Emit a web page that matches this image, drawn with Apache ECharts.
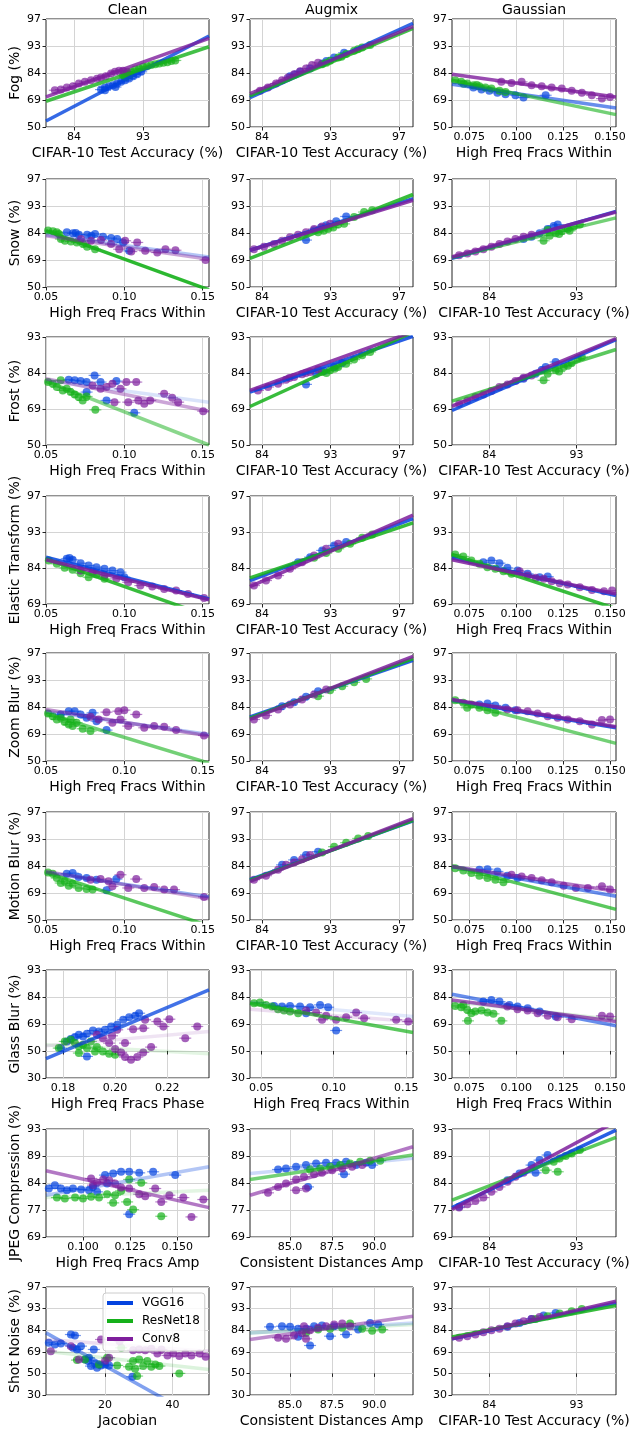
<!DOCTYPE html>
<html><head><meta charset="utf-8">
<script src="https://cdn.jsdelivr.net/npm/echarts@6/dist/echarts.min.js"></script>
<style>html,body{margin:0;padding:0;background:#fff}#c{width:631px;height:1435px}</style>
</head><body><div id="c"></div><script>
// All accuracy values (y, and x where axis is CIFAR-10 accuracy) are in probit (z) units.
const MODELS = ['VGG16','ResNet18','Conv8'];
const COL_TITLES = ['Clean','Augmix','Gaussian'];
const ROW_NAMES = ['Fog (%)','Snow (%)','Frost (%)','Elastic Transform (%)','Zoom Blur (%)','Motion Blur (%)','Glass Blur (%)','JPEG Compression (%)','Shot Noise (%)'];
const PROBIT_TICKS = [-0.5,0,0.5,0.75,1,1.25,1.5,2];
const PROBIT_LABELS = ['30','50','69','77','84','89','93','97'];
const Y_RANGES = [[0,2],[0,2],[0,1.5],[0.5,2],[0,2],[0,2],[-0.5,1.5],[0.5,1.5],[-0.5,2]];
const Y_STEPS = [0.5,0.5,0.5,0.5,0.5,0.5,0.5,0.25,0.5];
const X_ACC_TICKS = [1,1.5,2];
const X_HFW_TICKS = [0.05,0.10,0.15];
const X_HFW3_TICKS = [0.075,0.100,0.125,0.150];
const X_HFP_TICKS = [0.18,0.20,0.22];
const X_HFA_TICKS = [0.100,0.125,0.150];
const X_CDA_TICKS = [85.0,87.5,90.0];
const X_JAC_TICKS = [20,40];

// ---- Fog ----
const fogClean = [
 [[1.195,0.693],[1.224,0.731],[1.253,0.755],[1.282,0.774],[1.312,0.805],[1.341,0.836],[1.370,0.867],[1.399,0.898],[1.428,0.941],[1.457,0.978],[1.486,1.022],[1.224,0.680],[1.30,0.74]],
 [[1.355,0.960],[1.384,1.003],[1.413,1.022],[1.442,1.065],[1.471,1.084],[1.500,1.115],[1.530,1.127],[1.559,1.146],[1.588,1.164],[1.617,1.176],[1.646,1.189],[1.675,1.201],[1.704,1.220],[1.733,1.232],[1.37,0.93],[1.40,0.97]],
 [[0.861,0.681],[0.905,0.693],[0.948,0.731],[0.992,0.755],[1.035,0.805],[1.079,0.836],[1.123,0.867],[1.166,0.892],[1.195,0.916],[1.230,0.941],[1.268,0.991],[1.297,1.022],[1.326,1.040],[1.355,1.040],[1.384,1.022]]];
const fogCleanFit = [[0.797,0.111,1.977,1.684],[0.797,0.477,1.977,1.486],[0.797,0.557,1.977,1.641]];
const fogAugmix = [
 [[1.204,0.941],[1.278,1.022],[1.351,1.084],[1.439,1.176],[1.526,1.288],[1.599,1.375],[1.24,0.97],[1.47,1.22]],
 [[1.439,1.164],[1.497,1.226],[1.556,1.288],[1.614,1.350],[1.672,1.412],[1.731,1.474],[1.789,1.517],[1.47,1.19],[1.58,1.30],[1.70,1.44]],
 [[0.985,0.669],[1.043,0.731],[1.102,0.805],[1.146,0.867],[1.190,0.916],[1.234,0.978],[1.278,1.034],[1.321,1.084],[1.365,1.146],[1.409,1.189]]];
const fogAugmixFit = [[0.912,0.545,2.102,1.920],[0.912,0.576,2.102,1.827],[0.912,0.619,2.102,1.858]];
const fogGauss = [
 [[0.0772,0.731],[0.0815,0.693],[0.0857,0.669],[0.0900,0.632],[0.0943,0.607],[0.0996,0.588],[0.1039,0.545],[0.1157,0.588]],
 [[0.0675,0.867],[0.0707,0.836],[0.0739,0.805],[0.0772,0.774],[0.0804,0.755],[0.0836,0.731],[0.0868,0.712],[0.0911,0.669],[0.0943,0.650],[0.072,0.80],[0.079,0.78]],
 [[0.0921,0.836],[0.0975,0.817],[0.1029,0.836],[0.1082,0.774],[0.1136,0.755],[0.1189,0.731],[0.1243,0.712],[0.1296,0.669],[0.1350,0.632],[0.1403,0.588],[0.1457,0.526],[0.1500,0.557]]];
const fogGaussFit = [[0.0658,0.793,0.1532,0.353],[0.0658,0.867,0.1532,0.229],[0.0658,0.978,0.1532,0.557]];

// ---- Snow ----
const snowClean = [
 [[0.0633,1.013],[0.0672,0.994],[0.0710,0.969],[0.0762,0.969],[0.0813,0.981],[0.0864,0.931],[0.0915,0.906],[0.0954,0.888],[0.0992,0.825],[0.1031,0.669],[0.069,1.0],[0.079,0.95]],
 [[0.0513,1.044],[0.0544,1.031],[0.0569,1.013],[0.0595,0.888],[0.0621,0.856],[0.0659,0.844],[0.0697,0.825],[0.0736,0.794],[0.0762,0.744],[0.0813,0.700],[0.0582,0.981]],
 [[0.0723,0.888],[0.0787,0.856],[0.0851,0.869],[0.0915,0.794],[0.0967,0.700],[0.1005,0.856],[0.1044,0.656],[0.1082,0.825],[0.1133,0.669],[0.1210,0.638],[0.1262,0.700],[0.1326,0.681],[0.1518,0.500]]];
const snowCleanFit = [[0.05,0.969,0.154,0.556],[0.05,1.044,0.154,-0.053],[0.05,0.95,0.154,0.512]];
const snowAugmix = [
 [[1.321,0.869],[1.380,1.050],[1.468,1.144],[1.541,1.219],[1.614,1.306],[1.43,1.10]],
 [[1.409,1.013],[1.482,1.075],[1.556,1.156],[1.599,1.169],[1.672,1.294],[1.745,1.388],[1.804,1.419],[1.45,1.04],[1.52,1.10]],
 [[0.941,0.700],[1.014,0.744],[1.087,0.794],[1.146,0.856],[1.204,0.919],[1.263,0.969],[1.321,1.013],[1.380,1.075],[1.438,1.119],[1.497,1.169]]];
const snowAugmixFit = [[0.912,0.681,2.102,1.638],[0.912,0.531,2.102,1.713],[0.912,0.681,2.102,1.606]];
const snowGauss = [
 [[1.196,0.888],[1.242,0.931],[1.288,0.994],[1.334,1.075],[1.369,1.131],[1.392,1.156]],
 [[1.311,0.856],[1.346,0.950],[1.380,0.994],[1.415,1.031],[1.450,1.075],[1.484,1.119],[1.519,1.156],[1.334,1.056],[1.40,0.98],[1.46,1.04]],
 [[0.827,0.588],[0.874,0.619],[0.920,0.656],[0.966,0.700],[1.012,0.744],[1.058,0.794],[1.104,0.844],[1.150,0.888],[1.196,0.931],[1.242,0.969]]];
const snowGaussFit = [[0.786,0.531,1.726,1.40],[0.786,0.544,1.726,1.281],[0.786,0.556,1.726,1.388]];

// ---- Frost ----
const frostClean = [
 [[0.0645,0.907],[0.0683,0.898],[0.0721,0.888],[0.0759,0.874],[0.0810,0.967],[0.0848,0.874],[0.0886,0.619],[0.0949,0.888],[0.0759,0.735],[0.1063,0.447]],
 [[0.0513,0.874],[0.0543,0.851],[0.0569,0.805],[0.0594,0.898],[0.0607,0.758],[0.0632,0.781],[0.0657,0.735],[0.0683,0.702],[0.0708,0.665],[0.0734,0.619],[0.0759,0.674],[0.0815,0.488]],
 [[0.0797,0.828],[0.0848,0.781],[0.0886,0.805],[0.0924,0.851],[0.0975,0.781],[0.1013,0.874],[0.1025,0.595],[0.1076,0.874],[0.1089,0.619],[0.1165,0.619],[0.1254,0.712],[0.1305,0.656],[0.1343,0.595],[0.1503,0.470],[0.0937,0.595],[0.1127,0.572]]];
const frostCleanFit = [[0.05,0.898,0.154,0.595],[0.05,0.888,0.154,0.0],[0.05,0.921,0.154,0.470]];
const frostAugmix = [
 [[1.321,0.842],[1.395,0.991],[1.453,1.028],[1.526,1.084],[1.585,1.140]],
 [[1.438,1.014],[1.497,1.037],[1.556,1.084],[1.614,1.130],[1.672,1.186],[1.731,1.247],[1.789,1.293],[1.47,1.00],[1.53,1.06]],
 [[0.970,0.758],[1.044,0.805],[1.117,0.851],[1.175,0.907],[1.234,0.944],[1.292,0.981],[1.351,1.014],[1.409,1.047],[1.20,0.93],[1.32,1.00]]];
const frostAugmixFit = [[0.912,0.735,2.102,1.51],[0.912,0.535,2.102,1.569],[0.912,0.758,2.102,1.574]];
const frostGauss = [
 [[1.196,0.921],[1.265,0.991],[1.323,1.084],[1.380,1.153],[1.30,1.04]],
 [[1.311,0.898],[1.334,0.991],[1.380,1.037],[1.426,1.084],[1.472,1.140],[1.507,1.200],[1.530,1.223],[1.40,1.02],[1.45,1.10]],
 [[0.827,0.572],[0.874,0.619],[0.920,0.665],[0.966,0.702],[1.012,0.749],[1.058,0.805],[1.104,0.842],[1.150,0.888],[1.196,0.935],[1.242,0.967]]];
const frostGaussFit = [[0.786,0.479,1.726,1.465],[0.786,0.609,1.726,1.326],[0.786,0.535,1.726,1.479]];

// ---- Elastic Transform ----
const elasticClean = [
 [[0.0632,1.128],[0.0670,1.114],[0.0721,1.067],[0.0772,1.035],[0.0822,1.012],[0.0873,0.988],[0.0924,0.965],[0.0975,0.942],[0.1000,0.872],[0.065,1.14]],
 [[0.0518,1.105],[0.0569,1.058],[0.0619,1.002],[0.0670,0.974],[0.0721,0.928],[0.0772,0.872],[0.0822,0.909],[0.0873,0.849]],
 [[0.0721,0.965],[0.0797,0.942],[0.0873,0.895],[0.0949,0.849],[0.1025,0.802],[0.1102,0.756],[0.1178,0.742],[0.1254,0.709],[0.1330,0.686],[0.1406,0.640],[0.1508,0.584]]];
const elasticCleanFit = [[0.05,1.151,0.154,0.570],[0.05,1.128,0.154,0.328],[0.05,1.114,0.154,0.560]];
const elasticAugmix = [
 [[1.263,1.081],[1.351,1.151],[1.439,1.244],[1.526,1.314],[1.614,1.360]],
 [[1.380,1.142],[1.468,1.207],[1.556,1.267],[1.643,1.337],[1.731,1.421],[1.804,1.467]],
 [[0.941,0.756],[1.029,0.826],[1.117,0.895],[1.204,0.988],[1.292,1.081],[1.380,1.174],[1.468,1.267],[1.556,1.337]]];
const elasticAugmixFit = [[0.912,0.826,2.102,1.686],[0.912,0.863,2.102,1.626],[0.912,0.742,2.102,1.733]];
const elasticGauss = [
 [[0.0825,1.081],[0.0868,1.105],[0.0911,1.067],[0.0953,1.002],[0.1007,0.965],[0.1061,0.919],[0.1125,0.872],[0.1168,0.881]],
 [[0.0675,1.188],[0.0718,1.160],[0.0761,1.105],[0.0804,1.058],[0.0847,1.012],[0.0889,0.988],[0.0932,0.956],[0.0975,0.919]],
 [[0.1018,0.956],[0.1061,0.895],[0.1104,0.863],[0.1147,0.849],[0.1189,0.816],[0.1232,0.788],[0.1275,0.770],[0.1339,0.733],[0.1404,0.695],[0.1468,0.677],[0.1511,0.686]]];
const elasticGaussFit = [[0.0658,1.142,0.1532,0.616],[0.0658,1.188,0.1532,0.435],[0.0658,1.114,0.1532,0.640]];

// ---- Zoom Blur ----
const zoomClean = [
 [[0.0594,0.862],[0.0645,0.923],[0.0683,0.923],[0.0721,0.862],[0.0759,0.800],[0.0822,0.738],[0.0886,0.572],[0.0797,0.892]],
 [[0.0513,0.880],[0.0543,0.831],[0.0569,0.769],[0.0594,0.800],[0.0619,0.720],[0.0645,0.677],[0.0670,0.646],[0.0695,0.708],[0.0734,0.597],[0.0784,0.554],[0.0657,0.769]],
 [[0.0784,0.818],[0.0835,0.769],[0.0886,0.905],[0.0924,0.708],[0.0962,0.923],[0.1000,0.942],[0.1025,0.646],[0.1076,0.862],[0.1127,0.615],[0.1190,0.646],[0.1254,0.634],[0.1330,0.572],[0.1508,0.474],[0.0975,0.769]]];
const zoomCleanFit = [[0.05,0.923,0.154,0.492],[0.05,0.880,0.154,-0.04],[0.05,0.954,0.154,0.462]];
const zoomAugmix = [
 [[1.146,1.015],[1.234,1.089],[1.321,1.188],[1.409,1.292]],
 [[1.409,1.200],[1.497,1.311],[1.585,1.385],[1.672,1.458],[1.760,1.520]],
 [[0.941,0.769],[1.029,0.843],[1.117,0.954],[1.204,1.046],[1.292,1.138],[1.380,1.231],[1.468,1.323]]];
const zoomAugmixFit = [[0.912,0.818,2.102,1.865],[0.912,0.794,2.102,1.895],[0.912,0.769,2.102,1.938]];
const zoomGauss = [
 [[0.0804,1.046],[0.0847,1.065],[0.0889,1.028],[0.0943,0.985],[0.0996,0.942]],
 [[0.0675,1.126],[0.0718,1.077],[0.0761,1.046],[0.0804,0.985],[0.0847,0.942],[0.0889,0.892],[0.0739,0.985]],
 [[0.0953,0.954],[0.1007,0.942],[0.1061,0.923],[0.1114,0.880],[0.1168,0.831],[0.1221,0.800],[0.1275,0.769],[0.1339,0.738],[0.1404,0.677],[0.1457,0.757],[0.1500,0.769]]];
const zoomGaussFit = [[0.0658,1.126,0.1532,0.615],[0.0658,1.126,0.1532,0.326],[0.0658,1.138,0.1532,0.634]];

// ---- Motion Blur ----
const motionClean = [
 [[0.0632,0.856],[0.0670,0.869],[0.0708,0.795],[0.0759,0.777],[0.0822,0.746],[0.0886,0.550],[0.0949,0.758]],
 [[0.0513,0.881],[0.0543,0.856],[0.0569,0.777],[0.0594,0.685],[0.0619,0.716],[0.0645,0.636],[0.0670,0.673],[0.0708,0.593],[0.0759,0.575],[0.0797,0.563]],
 [[0.0784,0.746],[0.0848,0.758],[0.0899,0.716],[0.0975,0.838],[0.1025,0.593],[0.1076,0.758],[0.1127,0.593],[0.1190,0.612],[0.1254,0.563],[0.1317,0.563],[0.1508,0.428],[0.0924,0.624]]];
const motionCleanFit = [[0.05,0.881,0.154,0.428],[0.05,0.881,0.154,-0.108],[0.05,0.899,0.154,0.391]];
const motionAugmix = [
 [[1.146,1.021],[1.234,1.113],[1.321,1.205],[1.409,1.266]],
 [[1.438,1.248],[1.526,1.358],[1.614,1.431],[1.702,1.511],[1.775,1.554]],
 [[0.941,0.746],[1.029,0.820],[1.117,0.930],[1.175,1.021],[1.234,1.064],[1.292,1.125],[1.351,1.205]]];
const motionAugmixFit = [[0.912,0.746,2.102,1.835],[0.912,0.734,2.102,1.847],[0.912,0.716,2.102,1.878]];
const motionGauss = [
 [[0.0804,0.930],[0.0847,0.942],[0.0900,0.899],[0.0953,0.820],[0.1007,0.777]],
 [[0.0675,0.960],[0.0718,0.917],[0.0761,0.869],[0.0804,0.820],[0.0847,0.777],[0.0889,0.746],[0.0932,0.697]],
 [[0.0975,0.838],[0.1029,0.807],[0.1082,0.777],[0.1136,0.734],[0.1189,0.697],[0.1253,0.636],[0.1318,0.593],[0.1382,0.593],[0.1457,0.624],[0.1500,0.563]]];
const motionGaussFit = [[0.0658,0.991,0.1532,0.440],[0.0658,1.003,0.1532,0.196],[0.0658,0.991,0.1532,0.532]];

// ---- Glass Blur ----
const glassClean = [
 [[0.1792,0.054],[0.1815,0.177],[0.1830,0.220],[0.1846,0.257],[0.1861,0.300],[0.1877,0.269],[0.1892,0.318],[0.1915,0.380],[0.1938,0.362],[0.1961,0.392],[0.1985,0.454],[0.2008,0.485],[0.2031,0.577],[0.2054,0.626],[0.2077,0.651],[0.2092,0.700],[0.1892,-0.100]],
 [[0.1784,0.054],[0.1807,0.177],[0.1830,0.208],[0.1846,0.146],[0.1861,0.085],[0.1877,0.115],[0.1892,0.054],[0.1907,0.177],[0.1930,0.072],[0.1953,-0.008],[0.1977,-0.051],[0.2000,-0.069],[0.1861,-0.038],[0.1923,-0.008]],
 [[0.1930,0.300],[0.1953,0.238],[0.1977,0.146],[0.2000,0.035],[0.2023,-0.026],[0.2038,-0.112],[0.2061,-0.162],[0.2085,-0.112],[0.2108,-0.026],[0.2138,0.072],[0.2038,0.146],[0.2069,0.405],[0.2108,0.423],[0.2162,0.546],[0.2185,0.454],[0.2208,0.589],[0.2269,0.238],[0.2315,0.454],[0.2115,0.577],[0.1988,0.282],[0.2008,0.392]]];
const glassCleanFit = [[0.1735,-0.143,0.236,1.131],[0.1735,0.115,0.236,-0.051],[0.1735,0.095,0.236,0.362]];
const glassAugmix = [
 [[0.0589,0.835],[0.0644,0.823],[0.0699,0.835],[0.0768,0.823],[0.0837,0.811],[0.0906,0.854],[0.0962,0.811],[0.1017,0.380],[0.0810,0.700]],
 [[0.0451,0.885],[0.0492,0.897],[0.0533,0.854],[0.0575,0.823],[0.0616,0.774],[0.0658,0.749],[0.0699,0.731],[0.0755,0.700]],
 [[0.0810,0.749],[0.0879,0.712],[0.0948,0.651],[0.1017,0.577],[0.1086,0.626],[0.1155,0.712],[0.1210,0.608],[0.1431,0.577],[0.1514,0.546],[0.0920,0.577]]];
const glassAugmixFit = [[0.0423,0.897,0.1547,0.638],[0.0423,0.885,0.1547,0.343],[0.0423,0.774,0.1547,0.546]];
const glassGauss = [
 [[0.0825,0.915],[0.0868,0.946],[0.0911,0.915],[0.0964,0.854],[0.1007,0.823],[0.1061,0.792],[0.1125,0.731],[0.1211,0.638]],
 [[0.0675,0.835],[0.0707,0.811],[0.0739,0.762],[0.0761,0.700],[0.0782,0.731],[0.0815,0.749],[0.0847,0.712],[0.0879,0.688],[0.0743,0.558],[0.0921,0.558],[0.0718,0.854]],
 [[0.0953,0.823],[0.1007,0.774],[0.1061,0.749],[0.1114,0.700],[0.1168,0.651],[0.1221,0.626],[0.1296,0.589],[0.1457,0.651],[0.1500,0.638]]];
const glassGaussFit = [[0.0658,1.051,0.1532,0.466],[0.0658,0.915,0.1532,0.577],[0.0658,0.946,0.1532,0.546]];

// ---- JPEG Compression ----
const jpegClean = [
 [[0.0819,0.949],[0.0851,0.980],[0.0883,0.949],[0.0915,0.933],[0.0947,0.949],[0.0990,0.940],[0.1032,0.933],[0.1075,0.918],[0.1117,1.073],[0.1160,1.088],[0.1202,1.104],[0.1245,1.104],[0.1298,1.094],[0.1372,1.104],[0.1489,1.073],[0.1245,0.711],[0.1053,0.964],[0.1128,0.995]],
 [[0.0862,0.865],[0.0904,0.856],[0.0958,0.865],[0.1000,0.856],[0.1043,0.872],[0.1085,0.865],[0.1128,0.896],[0.1170,0.887],[0.1202,0.927],[0.1234,0.825],[0.1245,1.033],[0.1266,0.754],[0.1309,1.002],[0.1415,0.692],[0.1160,0.816]],
 [[0.1043,1.042],[0.1075,1.002],[0.1107,1.033],[0.1139,1.026],[0.1170,0.995],[0.1202,0.958],[0.1245,0.949],[0.1298,0.896],[0.1330,0.878],[0.1383,0.949],[0.1415,0.825],[0.1458,0.887],[0.1532,0.865],[0.1575,0.686],[0.1638,0.847],[0.1053,0.980]]];
const jpegCleanFit = [[0.0804,0.887,0.1668,1.150],[0.0804,0.865,0.1668,0.933],[0.0804,1.113,0.1668,0.772]];
const jpegAugmix = [
 [[84.29,1.125],[84.76,1.135],[85.36,1.150],[85.95,1.166],[86.55,1.181],[87.14,1.187],[87.74,1.187],[88.33,1.197],[88.93,1.166],[89.52,1.187],[89.88,1.166],[86.07,0.964],[88.21,1.082]],
 [[86.19,1.125],[86.79,1.135],[87.38,1.150],[87.98,1.166],[88.57,1.181],[89.17,1.197],[89.76,1.206],[90.36,1.206]],
 [[83.69,0.909],[84.29,0.964],[84.76,0.995],[85.36,1.033],[85.83,1.057],[86.43,1.082],[86.90,1.094],[87.50,1.119],[88.10,1.135],[88.69,1.150],[89.29,1.166],[85.36,0.933],[85.95,0.949]]];
const jpegAugmixFit = [[82.62,1.088,92.31,1.228],[82.62,1.033,92.31,1.259],[82.62,0.887,92.31,1.336]];
const jpegGauss = [
 [[0.827,0.779],[1.104,1.026],[1.173,1.088],[1.242,1.166],[1.288,1.212],[1.334,1.259],[1.265,1.094]],
 [[1.323,1.119],[1.369,1.197],[1.403,1.228],[1.438,1.249],[1.472,1.274],[1.519,1.305],[1.392,1.104]],
 [[0.827,0.772],[0.874,0.803],[0.920,0.834],[0.966,0.865],[1.012,0.918],[1.058,0.964],[1.104,1.011],[1.150,1.057],[1.196,1.094]]];
const jpegGaussFit = [[0.786,0.772,1.726,1.49],[0.786,0.841,1.726,1.423],[0.786,0.754,1.726,1.570]];

// ---- Shot Noise ----
const shotClean = [
 [[3.33,0.708],[5.12,0.669],[6.90,0.692],[9.88,0.900],[11.07,0.877],[10.48,0.592],[11.67,0.554],[12.86,0.631],[14.05,0.323],[15.24,0.362],[15.83,0.169],[17.02,0.231],[17.62,0.131],[18.81,0.185],[20.00,0.208],[21.19,0.185],[16.67,0.554],[15.0,0.285],[28.1,-0.077]],
 [[11.67,0.308],[14.05,0.323],[18.2,0.208],[20.6,0.362],[23.6,0.185],[24.8,0.592],[27.1,0.154],[28.3,0.285],[28.9,0.108],[30.1,0.323],[31.3,0.169],[32.5,0.285],[33.7,0.154],[34.9,0.208],[36.1,0.169],[29.5,-0.062],[42.0,0.0]],
 [[3.93,0.515],[9.88,0.631],[12.26,0.323],[20.0,0.285],[21.2,0.362],[18.8,0.785],[28.3,0.538],[30.1,0.554],[31.9,0.538],[33.7,0.569],[35.5,0.462],[36.7,0.554],[38.5,0.415],[40.2,0.462],[42.0,0.400],[43.8,0.462],[45.6,0.415],[48.0,0.462],[49.8,0.385],[24.3,0.746]]];
const shotCleanFit = [[2.5,0.938,50.8,-1.17],[2.5,0.515,50.8,0.092],[2.5,0.785,50.8,0.515]];
const shotAugmix = [
 [[83.81,1.077],[84.52,1.092],[85.0,1.077],[85.48,1.031],[85.95,1.031],[86.43,1.092],[86.90,1.108],[87.62,1.092],[88.33,0.900],[89.05,1.015],[89.76,1.169],[90.24,1.131],[86.19,0.646],[87.38,0.862],[85.48,0.846]],
 [[85.95,0.938],[86.67,1.015],[87.38,1.031],[88.10,1.054],[88.57,1.154],[89.29,1.031],[89.88,0.985],[90.48,1.015]],
 [[84.29,0.823],[84.76,0.800],[85.24,0.877],[85.71,0.938],[86.19,1.000],[86.67,1.054],[87.14,1.092],[87.62,1.131],[88.10,1.154],[88.57,1.092],[85.83,1.092],[85.95,0.800]]];
const shotAugmixFit = [[82.62,0.938,92.31,1.169],[82.62,0.938,92.31,1.131],[82.62,0.785,92.31,1.323]];
const shotGauss = [
 [[1.104,1.077],[1.173,1.169],[1.242,1.262],[1.311,1.338],[1.380,1.400]],
 [[1.265,1.262],[1.334,1.323],[1.403,1.385],[1.472,1.438],[1.530,1.492]],
 [[0.827,0.823],[0.874,0.862],[0.920,0.900],[0.966,0.954],[1.012,1.000],[1.058,1.031],[1.104,1.092],[1.150,1.154],[1.196,1.208],[1.242,1.262],[1.288,1.308]]];
const shotGaussFit = [[0.786,0.8,1.726,1.631],[0.786,0.846,1.726,1.569],[0.786,0.8,1.726,1.669]];

// ---- panel table: [x axis name, x ticks, decimals (-1 = probit labels), x range, points, fit] ----
const ACC = 'CIFAR-10 Test Accuracy (%)', HFW = 'High Freq Fracs Within';
const PANELS = [
 [ACC,X_ACC_TICKS,-1,[0.797,1.977],fogClean,fogCleanFit],
 [ACC,X_ACC_TICKS,-1,[0.912,2.102],fogAugmix,fogAugmixFit],
 [HFW,X_HFW3_TICKS,3,[0.0658,0.1532],fogGauss,fogGaussFit],
 [HFW,X_HFW_TICKS,2,[0.05,0.154],snowClean,snowCleanFit],
 [ACC,X_ACC_TICKS,-1,[0.912,2.102],snowAugmix,snowAugmixFit],
 [ACC,X_ACC_TICKS,-1,[0.786,1.726],snowGauss,snowGaussFit],
 [HFW,X_HFW_TICKS,2,[0.05,0.154],frostClean,frostCleanFit],
 [ACC,X_ACC_TICKS,-1,[0.912,2.102],frostAugmix,frostAugmixFit],
 [ACC,X_ACC_TICKS,-1,[0.786,1.726],frostGauss,frostGaussFit],
 [HFW,X_HFW_TICKS,2,[0.05,0.154],elasticClean,elasticCleanFit],
 [ACC,X_ACC_TICKS,-1,[0.912,2.102],elasticAugmix,elasticAugmixFit],
 [HFW,X_HFW3_TICKS,3,[0.0658,0.1532],elasticGauss,elasticGaussFit],
 [HFW,X_HFW_TICKS,2,[0.05,0.154],zoomClean,zoomCleanFit],
 [ACC,X_ACC_TICKS,-1,[0.912,2.102],zoomAugmix,zoomAugmixFit],
 [HFW,X_HFW3_TICKS,3,[0.0658,0.1532],zoomGauss,zoomGaussFit],
 [HFW,X_HFW_TICKS,2,[0.05,0.154],motionClean,motionCleanFit],
 [ACC,X_ACC_TICKS,-1,[0.912,2.102],motionAugmix,motionAugmixFit],
 [HFW,X_HFW3_TICKS,3,[0.0658,0.1532],motionGauss,motionGaussFit],
 ['High Freq Fracs Phase',X_HFP_TICKS,2,[0.1735,0.236],glassClean,glassCleanFit],
 [HFW,X_HFW_TICKS,2,[0.0423,0.1547],glassAugmix,glassAugmixFit],
 [HFW,X_HFW3_TICKS,3,[0.0658,0.1532],glassGauss,glassGaussFit],
 ['High Freq Fracs Amp',X_HFA_TICKS,3,[0.0804,0.1668],jpegClean,jpegCleanFit],
 ['Consistent Distances Amp',X_CDA_TICKS,1,[82.62,92.31],jpegAugmix,jpegAugmixFit],
 [ACC,X_ACC_TICKS,-1,[0.786,1.726],jpegGauss,jpegGaussFit],
 ['Jacobian',X_JAC_TICKS,0,[2.5,50.8],shotClean,shotCleanFit],
 ['Consistent Distances Amp',X_CDA_TICKS,1,[82.62,92.31],shotAugmix,shotAugmixFit],
 [ACC,X_ACC_TICKS,-1,[0.786,1.726],shotGauss,shotGaussFit]
];

// ---- styles / layout ----
const COLORS = ['#0343df','#15b01a','#7e1e9c'];
const FIT_ALPHA = [
 [0.8,0.8,0.8],[0.8,0.8,0.8],[0.6,0.6,0.8],
 [0.3,0.9,0.4],[0.85,0.85,0.85],[0.85,0.6,0.85],
 [0.15,0.5,0.4],[0.85,0.85,0.85],[0.85,0.7,0.85],
 [0.85,0.85,0.85],[0.85,0.85,0.85],[0.85,0.85,0.85],
 [0.3,0.6,0.5],[0.85,0.85,0.85],[0.85,0.6,0.85],
 [0.4,0.7,0.4],[0.85,0.85,0.85],[0.6,0.7,0.6],
 [0.75,0.12,0.12],[0.12,0.7,0.15],[0.6,0.15,0.7],
 [0.3,0.12,0.6],[0.2,0.6,0.6],[0.85,0.7,0.85],
 [0.5,0.15,0.15],[0.2,0.15,0.5],[0.85,0.85,0.85]
];
const COL_LEFT = [46,250,452], COL_W = [163,163,164];
const ROW_TOP = [19,179,337,496,653,812,970,1129,1287], ROW_H = 108;
const FONT = 'DejaVu Sans';
const ERR_HALF_PX = 6;   // drawn half-length of the horizontal error whiskers

function probitLabel(v){
  const i = PROBIT_TICKS.findIndex(t => Math.abs(t - v) < 1e-6);
  return i >= 0 ? PROBIT_LABELS[i] : '';
}

const grids = [], xAxes = [], yAxes = [], series = [];
PANELS.forEach((p, i) => {
  const r = Math.floor(i / 3), c = i % 3;
  const [xName, ticks, dec, xr, pts, fit] = p;
  grids.push({left: COL_LEFT[c], top: ROW_TOP[r], width: COL_W[c], height: ROW_H,
    show: true, borderColor: '#222', borderWidth: 1, backgroundColor: 'rgba(0,0,0,0)',
    containLabel: false, outerBoundsMode: 'none'});
  const tv = ticks.filter(t => t >= xr[0] - 1e-9 && t <= xr[1] + 1e-9);
  xAxes.push({type: 'value', gridIndex: i, min: xr[0], max: xr[1],
    name: xName, nameLocation: 'middle', nameGap: 19,
    nameTextStyle: {fontSize: 14, color: '#000', fontFamily: FONT},
    axisLine: {show: false},
    axisTick: {show: true, length: 3.5, customValues: tv, lineStyle: {color: '#222'}},
    axisLabel: {customValues: tv, fontSize: 11, margin: 5, color: '#000', fontFamily: FONT,
      formatter: v => dec < 0 ? probitLabel(v) : Number(v).toFixed(dec)},
    splitLine: {show: true, lineStyle: {color: '#d4d4d4', width: 1}}});
  yAxes.push({type: 'value', gridIndex: i, min: Y_RANGES[r][0], max: Y_RANGES[r][1], interval: Y_STEPS[r],
    name: c === 0 ? ROW_NAMES[r] : '', nameLocation: 'middle', nameGap: 24,
    nameTextStyle: {fontSize: 14, color: '#000', fontFamily: FONT},
    axisLine: {show: false},
    axisTick: {show: true, length: 3.5, lineStyle: {color: '#222'}},
    axisLabel: {fontSize: 11, margin: 5, color: '#000', fontFamily: FONT, formatter: probitLabel},
    splitLine: {show: true, lineStyle: {color: '#d4d4d4', width: 1}}});
  for (let m = 0; m < 3; m++) {
    const col = COLORS[m];
    series.push({type: 'custom', xAxisIndex: i, yAxisIndex: i, data: pts[m], z: 1, silent: true, clip: true,
      renderItem: (params, api) => {
        const pt = api.coord([api.value(0), api.value(1)]);
        return {type: 'line', shape: {x1: pt[0] - ERR_HALF_PX, y1: pt[1], x2: pt[0] + ERR_HALF_PX, y2: pt[1]},
          style: {stroke: col, lineWidth: 1.2, opacity: 0.55}};
      }});
    series.push({type: 'scatter', name: MODELS[m], xAxisIndex: i, yAxisIndex: i, data: pts[m],
      symbol: 'circle', symbolSize: 8, itemStyle: {color: col, opacity: 0.7}, z: 2, silent: true});
  }
  for (let m = 0; m < 3; m++) {
    const f = fit[m];
    series.push({type: 'line', name: MODELS[m], xAxisIndex: i, yAxisIndex: i,
      data: [[f[0], f[1]], [f[2], f[3]]], symbol: 'none', showSymbol: false, clip: true,
      lineStyle: {color: COLORS[m], width: 3.5, opacity: FIT_ALPHA[i][m]},
      itemStyle: {color: COLORS[m]}, z: 3, silent: true});
  }
});

const graphics = COL_TITLES.map((t, c) => ({type: 'text', x: COL_LEFT[c] + COL_W[c] / 2, y: 10,
  style: {text: t, align: 'center', verticalAlign: 'middle', textAlign: 'center', textVerticalAlign: 'middle',
    font: '14px "DejaVu Sans"', fill: '#000'}}));

const chart = echarts.init(document.getElementById('c'), null, {renderer: 'canvas'});
chart.setOption({
  animation: false,
  backgroundColor: '#fff',
  textStyle: {fontFamily: FONT},
  grid: grids, xAxis: xAxes, yAxis: yAxes, series: series,
  graphic: graphics,
  legend: {left: 103, top: 1293, orient: 'vertical', selectedMode: false,
    itemWidth: 26, itemHeight: 4, itemGap: 4, icon: 'rect',
    padding: [3, 5, 5, 4], borderColor: '#cccccc', borderWidth: 1, borderRadius: 3,
    backgroundColor: 'rgba(255,255,255,0.85)', z: 10,
    textStyle: {fontSize: 12, color: '#000', fontFamily: FONT, lineHeight: 14, padding: [0, 0, 0, 4]},
    data: MODELS.map((n, m) => ({name: n, itemStyle: {color: COLORS[m], opacity: 1}}))}
});
</script></body></html>
